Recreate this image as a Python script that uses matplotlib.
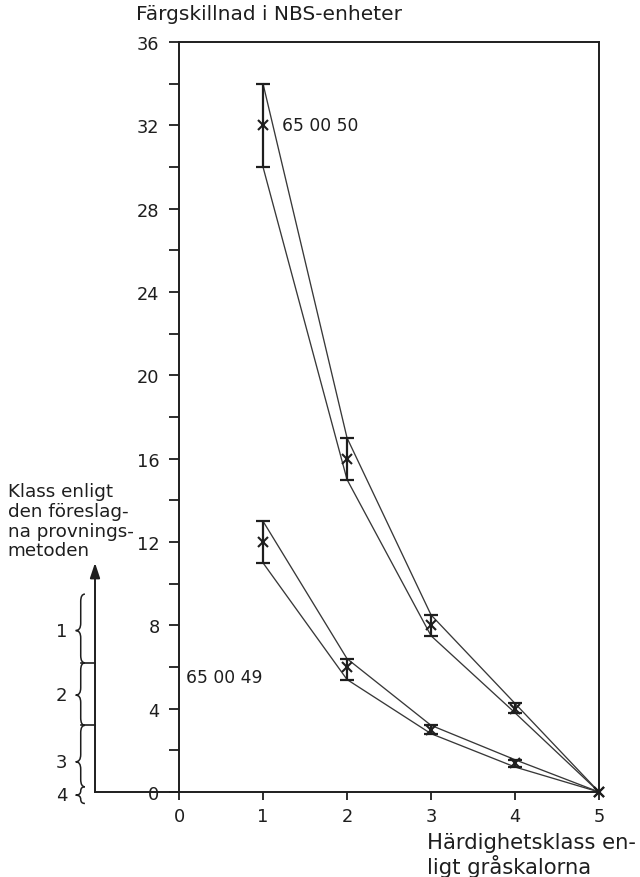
import matplotlib
matplotlib.use("Agg")
import matplotlib.pyplot as plt
from matplotlib.path import Path
from matplotlib.patches import PathPatch
import numpy as np

plt.rcParams['font.family'] = ['DejaVu Sans']

# Hardness class according to the grey scales
classes = [1, 2, 3, 4, 5]

# Sample 65 00 50: colour difference (NBS units), mean with range
s50_mid = [32, 16, 8, 4, 0]
s50_lo = [30, 15, 7.5, 3.8, 0]
s50_hi = [34, 17, 8.5, 4.25, 0]

# Sample 65 00 49
s49_mid = [12, 6, 3, 1.4, 0]
s49_lo = [11, 5.4, 2.8, 1.2, 0]
s49_hi = [13, 6.4, 3.2, 1.55, 0]

series_names = ["65 00 50", "65 00 49"]

# Class scale of the proposed test method (limits in NBS units)
scale_classes = ["1", "2", "3", "4"]
scale_edges = [9.5, 6.2, 3.2, 0.25, -0.55]
scale_label_y = [7.75, 4.65, 1.45, -0.15]
scale_arrow_top = 11.0

ink = "#1e1e1e"

fig = plt.figure(figsize=(6.4, 8.78), dpi=100)
ax = fig.add_axes([0.2797, 0.0968, 0.6563, 0.8542])

ax.set_xlim(0, 5)
ax.set_ylim(0, 36)

for lo, mid, hi in [(s50_lo, s50_mid, s50_hi), (s49_lo, s49_mid, s49_hi)]:
    ax.plot(classes, hi, color="#383838", lw=0.95, zorder=2)
    ax.plot(classes, lo, color="#383838", lw=0.95, zorder=2)
    mid_a = np.array(mid)
    yerr = [mid_a - np.array(lo), np.array(hi) - mid_a]
    ax.errorbar(classes[:-1], mid[:-1], yerr=[e[:-1] for e in yerr], fmt="none",
                ecolor=ink, elinewidth=1.6, capsize=5, capthick=1.6, zorder=3)
    ax.plot(classes, mid, linestyle="none", marker="x", markersize=7,
            mew=1.5, color=ink, zorder=4, clip_on=False)

ax.text(1.23, s50_mid[0], series_names[0], fontsize=12.3, color=ink,
        ha="left", va="center")
ax.text(0.08, 5.5, series_names[1], fontsize=12.3, color=ink,
        ha="left", va="center")

# axes styling
for side in ["left", "right", "top", "bottom"]:
    ax.spines[side].set_linewidth(1.4)
    ax.spines[side].set_color(ink)
ax.set_xticks(range(0, 6))
ax.set_yticks(np.arange(0, 37, 4))
ax.set_yticks(np.arange(2, 36, 4), minor=True)
ax.tick_params(axis="both", which="both", direction="out", color=ink,
               width=1.3, labelsize=12.8, labelcolor=ink)
ax.tick_params(axis="y", which="major", length=7, pad=7)
ax.tick_params(axis="y", which="minor", length=7)
ax.tick_params(axis="x", which="major", length=6, pad=5)

# axis titles
ax.text(-0.51, 37.35, "Färgskillnad i NBS-enheter", fontsize=14.5, color=ink,
        ha="left", va="center", clip_on=False)
ax.text(2.95, -2.40, "Härdighetsklass en-", fontsize=15.2,
        color=ink, ha="left", va="center", clip_on=False)
ax.text(2.95, -3.55, "ligt gråskalorna", fontsize=15.2,
        color=ink, ha="left", va="center", clip_on=False)

# class scale on the left
x_arrow = -1.0
ax.plot([x_arrow, 0], [0, 0], color=ink, lw=1.4, clip_on=False)
ax.annotate("", xy=(x_arrow, scale_arrow_top), xytext=(x_arrow, 0),
            arrowprops=dict(arrowstyle="-|>,head_length=0.9,head_width=0.3",
                            color=ink, lw=1.4, shrinkA=0, shrinkB=0),
            annotation_clip=False)
for e in scale_edges[1:3]:
    ax.plot([x_arrow - 0.17, x_arrow], [e, e], color=ink, lw=1.2, clip_on=False)


def brace(x, y0, y1, ym, w, q):
    verts = [(x + 0.5 * w, y1), (x, y1), (x, y1 - q),
             (x, ym + q),
             (x, ym), (x - 0.6 * w, ym),
             (x, ym), (x, ym - q),
             (x, y0 + q),
             (x, y0), (x + 0.5 * w, y0)]
    codes = [Path.MOVETO, Path.CURVE3, Path.CURVE3,
             Path.LINETO,
             Path.CURVE3, Path.CURVE3,
             Path.CURVE3, Path.CURVE3,
             Path.LINETO,
             Path.CURVE3, Path.CURVE3]
    ax.add_patch(PathPatch(Path(verts, codes), fill=False, ec=ink, lw=1.1,
                           clip_on=False))


for i, name in enumerate(scale_classes):
    top, bot = scale_edges[i], scale_edges[i + 1]
    yl = scale_label_y[i]
    q = min(0.35, (top - bot) / 4)
    brace(-1.17, bot, top, yl, 0.1, q)
    ax.text(-1.40, yl, name, fontsize=13, color=ink,
            ha="center", va="center", clip_on=False)

klass_lines = ["Klass enligt", "den föreslag-", "na provnings-", "metoden"]
klass_y = [14.21, 13.25, 12.29, 11.38]
for line, yy in zip(klass_lines, klass_y):
    ax.text(-2.04, yy, line, fontsize=13.2, color=ink, ha="left",
            va="baseline", clip_on=False)

fig.savefig("out.png", dpi=100, facecolor="white")
